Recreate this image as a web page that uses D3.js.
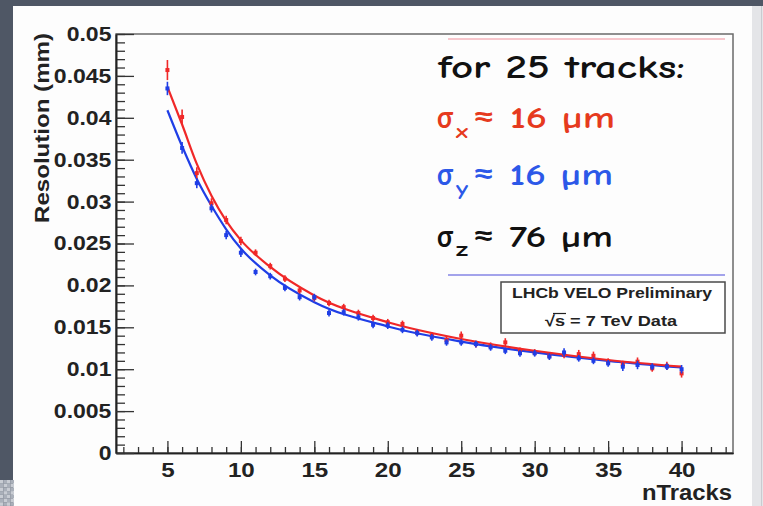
<!DOCTYPE html>
<html>
<head>
<meta charset="utf-8">
<script src="https://cdn.jsdelivr.net/npm/d3@7"></script>
<style>
  html, body { margin: 0; padding: 0; background: #4f5765; }
  svg { display: block; }
</style>
</head>
<body>
<svg id="chart" width="763" height="506"></svg>
<script>
// Primary-vertex resolution versus number of tracks
const nTracks = [5, 6, 7, 8, 9, 10, 11, 12, 13, 14, 15, 16, 17, 18, 19, 20,
  21, 22, 23, 24, 25, 26, 27, 28, 29, 30, 31, 32, 33, 34, 35, 36, 37, 38, 39, 40];

const sigmaX = [0.0457, 0.0401, 0.0334, 0.0298, 0.0278, 0.0253, 0.0239, 0.0223,
  0.0208, 0.0194, 0.0185, 0.0179, 0.0174, 0.0167, 0.0161, 0.0156,
  0.0154, 0.0144, 0.0140, 0.0135, 0.0140, 0.0130, 0.0128, 0.0132, 0.0122, 0.0120,
  0.0116, 0.0117, 0.0118, 0.0116, 0.0109, 0.0106, 0.0109, 0.0101, 0.0104, 0.0095];
const sigmaXErr = [0.0012, 0.0009, 0.0007, 0.0006, 0.0005, 0.0005, 0.0004, 0.0004,
  0.0004, 0.0004, 0.0004, 0.0004, 0.0004, 0.0004, 0.0004, 0.0004,
  0.0004, 0.0004, 0.0004, 0.0004, 0.0005, 0.0004, 0.0004, 0.0005, 0.0004, 0.0004,
  0.0004, 0.0004, 0.0005, 0.0005, 0.0004, 0.0004, 0.0005, 0.0004, 0.0005, 0.0005];

const sigmaY = [0.0435, 0.0364, 0.0322, 0.0292, 0.0260, 0.0239, 0.0216, 0.0211,
  0.0197, 0.0186, 0.0186, 0.0167, 0.0168, 0.0162, 0.0153, 0.0152,
  0.0147, 0.0143, 0.0138, 0.0132, 0.0132, 0.0130, 0.0126, 0.0122, 0.0119, 0.0119,
  0.0115, 0.0120, 0.0113, 0.0110, 0.0107, 0.0103, 0.0105, 0.0103, 0.0103, 0.0100];
const sigmaYErr = [0.0008, 0.0007, 0.0006, 0.0005, 0.0005, 0.0005, 0.0004, 0.0004,
  0.0004, 0.0004, 0.0004, 0.0004, 0.0004, 0.0004, 0.0004, 0.0004,
  0.0004, 0.0004, 0.0004, 0.0004, 0.0004, 0.0004, 0.0004, 0.0004, 0.0004, 0.0004,
  0.0004, 0.0005, 0.0004, 0.0004, 0.0004, 0.0005, 0.0005, 0.0004, 0.0004, 0.0005];

// fitted resolution curves, sampled along nTracks
const fitN = [5, 6, 7, 8, 9, 10, 12, 15, 20, 25, 30, 35, 40];
const fitX = [0.0437, 0.0392, 0.0345, 0.0307, 0.0277, 0.0254, 0.0222, 0.0188, 0.0156, 0.0136, 0.0122, 0.0111, 0.0103];
const fitY = [0.0409, 0.0366, 0.0327, 0.0295, 0.0267, 0.0244, 0.0212, 0.0180, 0.0151, 0.0133, 0.0120, 0.0110, 0.0102];

const xMajorTicks = [5, 10, 15, 20, 25, 30, 35, 40];
const yMajorTicks = [0, 0.005, 0.01, 0.015, 0.02, 0.025, 0.03, 0.035, 0.04, 0.045, 0.05];
const yTickLabels = ["0", "0.005", "0.01", "0.015", "0.02", "0.025", "0.03", "0.035", "0.04", "0.045", "0.05"];

const RED = "#f02828", BLUE = "#1f3ee6";
const LABEL_FONT = "'Liberation Sans', Arial, Helvetica, sans-serif";
const NOTE_FONT = "'Comic Sans MS', 'Comic Neue', Lato, 'Open Sans', sans-serif";
const STRETCH = 1.15;

const svg = d3.select("#chart");

// canvas surround
svg.append("rect").attr("x", 0).attr("y", 0).attr("width", 763).attr("height", 506).attr("fill", "#4f5765");
svg.append("rect").attr("x", 13).attr("y", 6).attr("width", 739).attr("height", 500).attr("fill", "#fdfdfd");
svg.append("rect").attr("x", 752).attr("y", 6).attr("width", 11).attr("height", 500).attr("fill", "#e4e5e8");
svg.append("line").attr("x1", 761.5).attr("x2", 761.5).attr("y1", 6).attr("y2", 506)
  .attr("stroke", "#c9cbd0").attr("stroke-width", 1);
const checker = svg.append("g");
for (let r = 0; r < 7; r++) {
  for (let c = 0; c < 4; c++) {
    checker.append("rect").attr("x", c * 3.5).attr("y", 480 + r * 3.7)
      .attr("width", 3.5).attr("height", 3.7)
      .attr("fill", (r + c) % 2 ? "#aab0ba" : "#c8ccd3");
  }
}

const x = d3.scaleLinear().domain([1.5, 43.5]).range([116, 733]);
const y = d3.scaleLinear().domain([0, 0.05]).range([453, 34]);

// frame
svg.append("rect").attr("x", 116).attr("y", 34).attr("width", 617).attr("height", 419)
  .attr("fill", "none").attr("stroke", "#6a6a6a").attr("stroke-width", 1.5);

// text box borders
svg.append("line").attr("x1", 448).attr("x2", 725).attr("y1", 39).attr("y2", 39)
  .attr("stroke", "#f4b3bb").attr("stroke-width", 1.5);
svg.append("line").attr("x1", 448).attr("x2", 725).attr("y1", 275).attr("y2", 275)
  .attr("stroke", "#8585e4").attr("stroke-width", 1.5);

// x axis
const xMinor = svg.append("g").attr("transform", "translate(0,453)")
  .call(d3.axisBottom(x).tickValues(d3.range(2, 44)).tickSizeInner(-6).tickSizeOuter(0).tickFormat(""));
const xAxis = svg.append("g").attr("transform", "translate(0,453)")
  .call(d3.axisBottom(x).tickValues(xMajorTicks).tickSizeInner(-12).tickSizeOuter(0).tickPadding(9));
xAxis.selectAll("text").attr("font-family", LABEL_FONT).attr("font-weight", "bold")
  .attr("font-size", 21).attr("fill", "#222").attr("transform", `scale(${STRETCH},1)`);

// y axis
const yMinor = svg.append("g").attr("transform", "translate(116,0)")
  .call(d3.axisLeft(y).tickValues(d3.range(0, 0.0505, 0.001)).tickSizeInner(-9).tickSizeOuter(0).tickFormat(""));
const yAxis = svg.append("g").attr("transform", "translate(116,0)")
  .call(d3.axisLeft(y).tickValues(yMajorTicks).tickSizeInner(-18).tickSizeOuter(0).tickPadding(4)
    .tickFormat((d, i) => yTickLabels[i]));
yAxis.selectAll("text").attr("font-family", LABEL_FONT).attr("font-weight", "bold")
  .attr("font-size", 20).attr("fill", "#222").attr("transform", `scale(${STRETCH},1)`);

[xMinor, xAxis, yMinor, yAxis].forEach(g => {
  g.selectAll("line").attr("stroke", "#333").attr("stroke-width", 1.3);
  g.select(".domain").attr("stroke", "#222").attr("stroke-width", 1.6);
});

// axis titles
svg.append("text").attr("transform", "translate(49,128) rotate(-90)")
  .attr("text-anchor", "middle").attr("font-family", LABEL_FONT).attr("font-weight", "bold")
  .attr("font-size", 21).attr("fill", "#222")
  .attr("textLength", 190).attr("lengthAdjust", "spacingAndGlyphs")
  .text("Resolution (mm)");
svg.append("text").attr("x", 642).attr("y", 500)
  .attr("font-family", LABEL_FONT).attr("font-weight", "bold").attr("font-size", 22).attr("fill", "#222")
  .attr("textLength", 90).attr("lengthAdjust", "spacingAndGlyphs")
  .text("nTracks");

// fit curves
const fitLine = d3.line().x(d => x(d[0])).y(d => y(d[1])).curve(d3.curveMonotoneX);
svg.append("path").datum(fitN.map((n, i) => [n, fitY[i]])).attr("d", fitLine)
  .attr("fill", "none").attr("stroke", BLUE).attr("stroke-width", 2.2);
svg.append("path").datum(fitN.map((n, i) => [n, fitX[i]])).attr("d", fitLine)
  .attr("fill", "none").attr("stroke", RED).attr("stroke-width", 2.2);

// measured points with error bars
function drawSeries(vals, errs, color) {
  const g = svg.append("g");
  const pts = nTracks.map((n, i) => ({ n, v: vals[i], e: errs[i] }));
  g.selectAll("line").data(pts).join("line")
    .attr("x1", d => x(d.n)).attr("x2", d => x(d.n))
    .attr("y1", d => y(d.v - d.e)).attr("y2", d => y(d.v + d.e))
    .attr("stroke", color).attr("stroke-width", 1.6);
  g.selectAll("rect").data(pts).join("rect")
    .attr("x", d => x(d.n) - 2).attr("y", d => y(d.v) - 2)
    .attr("width", 4).attr("height", 4).attr("fill", color);
}
drawSeries(sigmaX, sigmaXErr, RED);
drawSeries(sigmaY, sigmaYErr, BLUE);

// resolution summary
const note = svg.append("g").attr("font-family", NOTE_FONT).attr("font-weight", 700);
note.append("text").attr("x", 438).attr("y", 78).attr("font-size", 32).attr("fill", "#111")
  .attr("textLength", 247).attr("lengthAdjust", "spacingAndGlyphs").text("for 25 tracks:");

const summary = [
  { sub: "x", value: "≈ 16 µm", color: "#e63a1e", base: 128, subBase: 138, end: 615 },
  { sub: "y", value: "≈ 16 µm", color: "#2c58e8", base: 185, subBase: 195, end: 613 },
  { sub: "z", value: "≈ 76 µm", color: "#111111", base: 247, subBase: 256, end: 613 }
];
summary.forEach(s => {
  note.append("text").attr("x", 437).attr("y", s.base).attr("font-size", 30).attr("fill", s.color)
    .attr("textLength", 16).attr("lengthAdjust", "spacingAndGlyphs").text("σ");
  note.append("text").attr("x", 456).attr("y", s.subBase).attr("font-size", 21).attr("fill", s.color)
    .attr("textLength", 12).attr("lengthAdjust", "spacingAndGlyphs").text(s.sub);
  note.append("text").attr("x", 472).attr("y", s.base).attr("font-size", 30).attr("fill", s.color)
    .attr("textLength", s.end - 472).attr("lengthAdjust", "spacingAndGlyphs").text(s.value);
});

// experiment label
svg.append("rect").attr("x", 501).attr("y", 282).attr("width", 224).attr("height", 51)
  .attr("fill", "#ffffff").attr("stroke", "#4a4a4a").attr("stroke-width", 1.5);
svg.append("text").attr("x", 512).attr("y", 298)
  .attr("font-family", LABEL_FONT).attr("font-weight", "bold").attr("font-size", 15).attr("fill", "#222")
  .attr("textLength", 200).attr("lengthAdjust", "spacingAndGlyphs").text("LHCb VELO Preliminary");
svg.append("text").attr("x", 545).attr("y", 326)
  .attr("font-family", LABEL_FONT).attr("font-weight", "bold").attr("font-size", 15).attr("fill", "#222")
  .attr("textLength", 132).attr("lengthAdjust", "spacingAndGlyphs").text("√s = 7 TeV Data");
svg.append("line").attr("x1", 553).attr("x2", 566).attr("y1", 313.5).attr("y2", 313.5)
  .attr("stroke", "#222").attr("stroke-width", 1.2);
</script>
</body>
</html>
